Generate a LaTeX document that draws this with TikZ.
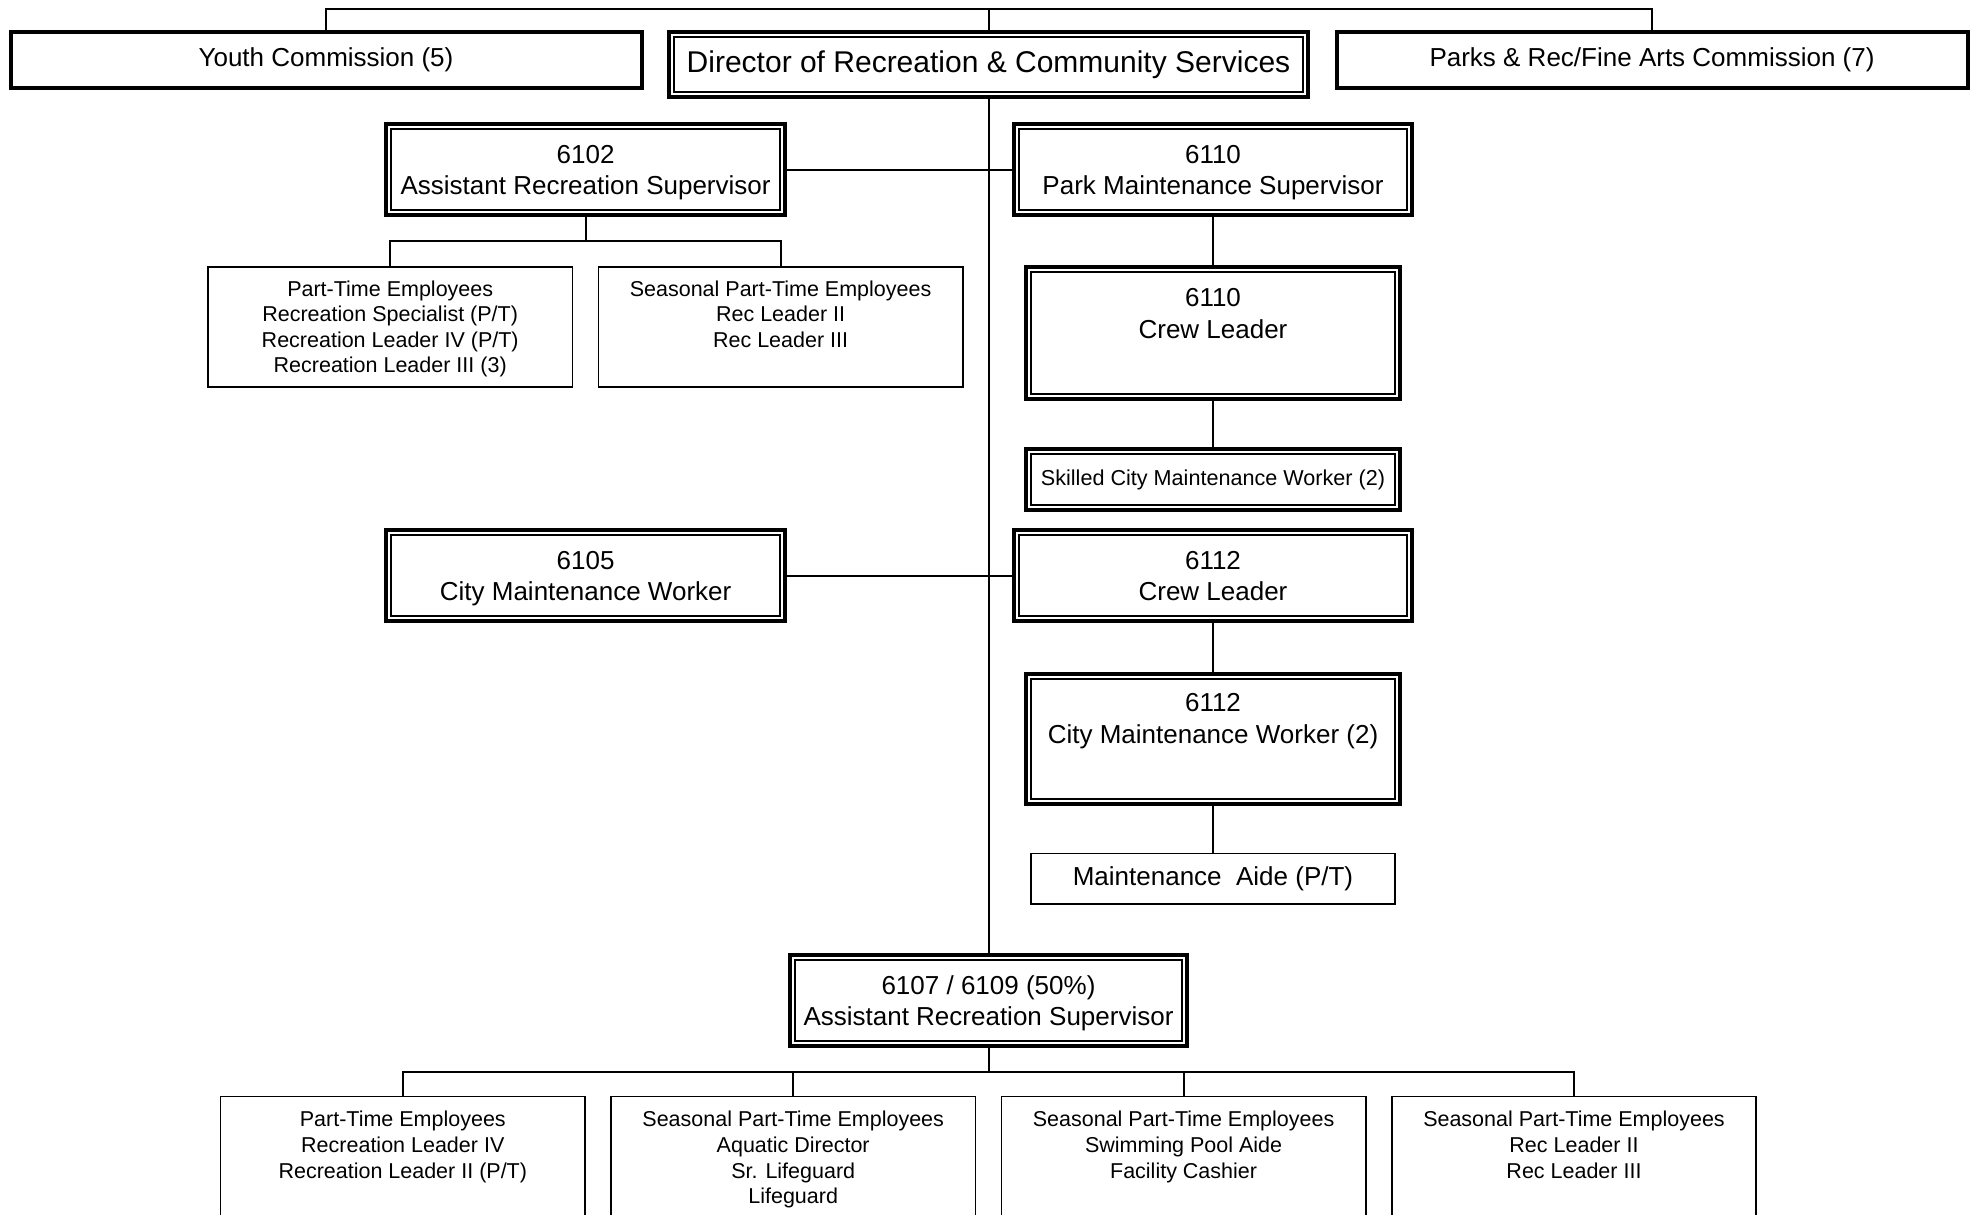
\documentclass[tikz,border=0pt]{standalone}
\usepackage{fontspec}
\setmainfont{Liberation Sans}
\usepackage{tikz}
\usetikzlibrary{positioning}
\newcommand{\jobbox}[4]{\begin{minipage}[t][#2][t]{#1}\centering\rule{0pt}{#3}#4\end{minipage}}
\tikzstyle{thickbox} = [draw, line width=2pt, inner sep=0pt, font=\fontsize{13}{15.75}\selectfont]
\tikzstyle{dblbox} = [thickbox, path picture={\draw[line width=1pt] ([shift={(2.5pt,-2.5pt)}]path picture bounding box.north west) rectangle ([shift={(-2.5pt,2.5pt)}]path picture bounding box.south east);}]
\tikzstyle{thinbox} = [draw, line width=0.8pt, inner sep=0pt, font=\fontsize{10.75}{12.8}\selectfont]
\tikzstyle{link} = [line width=1pt]

\begin{document}
\begin{tikzpicture}[x=0.5pt, y=-0.5pt]
	\useasboundingbox (0,0) rectangle (1977,1215);
	\clip (0,0) rectangle (1977,1215);
	\fill[white] (0,0) rectangle (1977,1215);
	% top row
	\node[thickbox, minimum width=315.5pt, minimum height=27.75pt] (youth) at (326,59.8) {Youth Commission (5)};
	\node[dblbox, font=\fontsize{15}{18}\selectfont, minimum width=319.5pt, minimum height=32.3pt] (director) at (988.5,64.3) {Director of Recreation \& Community Services};
	\node[thickbox, minimum width=315.5pt, minimum height=27.75pt] (parks) at (1652,59.8) {Parks \& Rec/Fine Arts Commission (7)};
	\coordinate (top) at (988.5,9);
	\draw[link] (youth.north) |- (top) -| (parks.north);
	\draw[link] (top) -- (director.north);

	% supervisors
	\node[dblbox] (asst6102) at (585.6,169.6) {\jobbox{199.3pt}{45.5pt}{19.45pt}{6102\\Assistant Recreation Supervisor}};
	\node[dblbox] (pms6110) at (1213,169.6) {\jobbox{198.7pt}{45.5pt}{19.45pt}{6110\\Park Maintenance Supervisor}};
	\node[dblbox] (cl6110) at (1213,332.9) {\jobbox{187.3pt}{66.3pt}{19.95pt}{6110\\Crew Leader}};
	\node[dblbox, font=\fontsize{10.8}{13}\selectfont, minimum width=187.3pt, minimum height=30.4pt] (skilled) at (1213,479.7) {Skilled City Maintenance Worker (2)};
	\node[dblbox] (cmw6105) at (585.6,575.6) {\jobbox{199.3pt}{45.5pt}{19.45pt}{6105\\City Maintenance Worker}};
	\node[dblbox] (cl6112) at (1213,575.6) {\jobbox{198.7pt}{45.5pt}{19.45pt}{6112\\Crew Leader}};
	\node[dblbox] (cmw6112) at (1213,738.8) {\jobbox{187.3pt}{65pt}{19.05pt}{6112\\City Maintenance Worker (2)}};
	\node[thinbox, font=\fontsize{13}{15.75}\selectfont, minimum width=182.2pt, minimum height=25.2pt] (aide) at (1213,878.8) {Maintenance~ Aide (P/T)};
	\node[dblbox] (sup6107) at (988.5,1000.4) {\jobbox{198.7pt}{45.5pt}{19.65pt}{6107 / 6109 (50\%)\\Assistant Recreation Supervisor}};

	% part-time under 6102
	\node[thinbox, anchor=north] (pt1) at (390.2,266) {\jobbox{182.2pt}{60pt}{14.6pt}{Part-Time Employees\\Recreation Specialist (P/T)\\Recreation Leader IV (P/T)\\Recreation Leader III (3)}};
	\node[thinbox, right=12.2pt of pt1] (seas1) {\jobbox{182.2pt}{60pt}{14.6pt}{Seasonal Part-Time Employees\\Rec Leader II\\Rec Leader III}};

	% part-time under 6107
	\node[thinbox, anchor=north] (pt2) at (402.8,1095.6) {\jobbox{182.2pt}{80pt}{15.2pt}{Part-Time Employees\\Recreation Leader IV\\Recreation Leader II (P/T)}};
	\node[thinbox, right=12.2pt of pt2] (seas2) {\jobbox{182.2pt}{80pt}{15.2pt}{Seasonal Part-Time Employees\\Aquatic Director\\Sr. Lifeguard\\Lifeguard}};
	\node[thinbox, right=12.2pt of seas2] (seas3) {\jobbox{182.2pt}{80pt}{15.2pt}{Seasonal Part-Time Employees\\Swimming Pool Aide\\Facility Cashier}};
	\node[thinbox, right=12.2pt of seas3] (seas4) {\jobbox{182.2pt}{80pt}{15.2pt}{Seasonal Part-Time Employees\\Rec Leader II\\Rec Leader III}};

	% lines
	\draw[link] (director.south) -- (sup6107.north);
	\draw[link] (asst6102.east) -- (pms6110.west);
	\draw[link] (cmw6105.east) -- (cl6112.west);
	\draw[link] (pms6110.south) -- (cl6110.north);
	\draw[link] (cl6110.south) -- (skilled.north);
	\draw[link] (cl6112.south) -- (cmw6112.north);
	\draw[link] (cmw6112.south) -- (aide.north);
	\coordinate (bus1) at (585.6,241);
	\draw[link] (asst6102.south) -- (bus1);
	\draw[link] (pt1.north) |- (bus1) -| (seas1.north);
	\coordinate (bus2) at (988.5,1072);
	\draw[link] (sup6107.south) -- (bus2);
	\draw[link] (pt2.north) |- (bus2) -| (seas4.north);
	\draw[link] (seas2.north) |- (bus2);
	\draw[link] (seas3.north) |- (bus2);
\end{tikzpicture}
\end{document}
